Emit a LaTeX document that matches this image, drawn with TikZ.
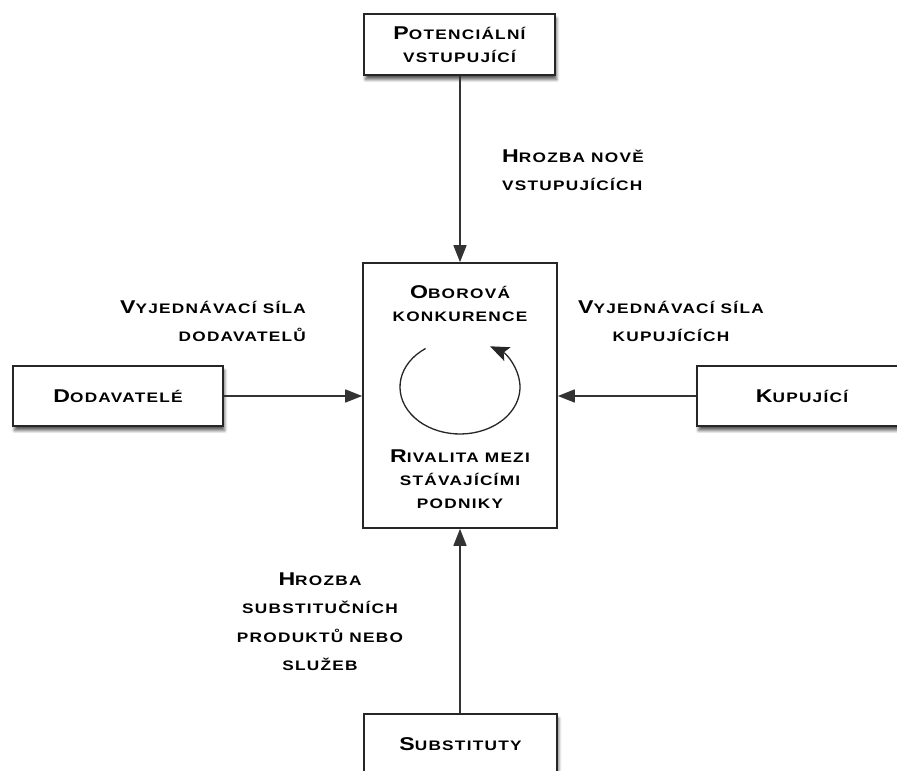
\documentclass[tikz,border=0pt]{standalone}
\usepackage{fontspec}
\usetikzlibrary{arrows.meta,shadows,shadows.blur}
\newfontfamily\cpf{Liberation Sans Bold}[FakeStretch=1.25,LetterSpace=9]
\newcommand\K[1]{{\fontsize{18.5}{0}\selectfont #1}}
\tikzset{
  box/.style={draw=black!85, line width=1.6pt, fill=white, minimum width=#1, inner sep=0pt,
    blur shadow={shadow xshift=1.5pt, shadow yshift=-4.5pt, shadow opacity=65, shadow blur steps=6, shadow blur radius=3pt}},
  plainbox/.style={draw=black!85, line width=1.6pt, fill=white, inner sep=0pt},
  boxtext/.style={font=\cpf\fontsize{13.8}{23}\selectfont, align=center, inner sep=0pt},
  lbl/.style={font=\cpf\fontsize{13.8}{28.5}\selectfont, inner sep=0pt},
  conn/.style={draw=black!80, line width=1.5pt, -{Triangle[length=17pt,width=13pt]}},
}
\begin{document}
\begin{tikzpicture}[x=1pt,y=1pt]
\useasboundingbox (0,0) rectangle (897,771);
% boxes
\node[box=191pt, minimum height=61pt] (top) at (459.5,726.5) {};
\node[boxtext] (toptxt) at (top.center) {\K{P}OTENCIÁLNÍ\\VSTUPUJÍCÍ};
\node[plainbox, minimum width=194pt, minimum height=265pt] (mid) at (460,375.5) {};
\node[box=210pt, minimum height=60pt] (left) at (118,375) {};
\node[boxtext] (lefttxt) at (left.center) {\K{D}ODAVATELÉ};
\node[box=210pt, minimum height=60pt] (right) at (802,375) {};
\node[boxtext] (righttxt) at (right.center) {\K{K}UPUJÍCÍ};
\node[box=193pt, minimum height=60pt] (bot) at (460.5,27) {};
\node[boxtext] (bottxt) at (bot.center) {\K{S}UBSTITUTY};
% central texts
\node[boxtext] (obor) at (460,467.5) {\K{O}BOROVÁ\\KONKURENCE};
\node[boxtext] (riv) at (460,292) {\K{R}IVALITA MEZI\\STÁVAJÍCÍMI\\PODNIKY};
% circular arrow
\coordinate (cc) at (460,384);
\draw[black!85, line width=1.3pt, -{Stealth[length=19pt,width=15pt,inset=4pt]}]
  ([shift={(125:60pt and 47pt)}]cc) arc[start angle=125, end angle=420, x radius=60pt, y radius=47pt];
% connectors
\draw[conn] (top.south -| mid.north) -- (mid.north);
\draw[conn] (bot.north -| mid.south) -- (mid.south);
\draw[conn] (left.east) -- (left.east -| mid.west);
\draw[conn] (right.west) -- (right.west -| mid.east);
% labels
\node[lbl, align=left, anchor=west] (l1) at (502,601) {\K{H}ROZBA NOVĚ\\VSTUPUJÍCÍCH};
\node[lbl, align=right, anchor=east] (l2) at (306,450) {\K{V}YJEDNÁVACÍ SÍLA\\DODAVATELŮ};
\node[lbl, align=center] (l3) at (671,450) {\K{V}YJEDNÁVACÍ SÍLA\\KUPUJÍCÍCH};
\node[lbl, align=center] (l4) at (320,149.5) {\K{H}ROZBA\\SUBSTITUČNÍCH\\PRODUKTŮ NEBO\\SLUŽEB};
\end{tikzpicture}
\end{document}
